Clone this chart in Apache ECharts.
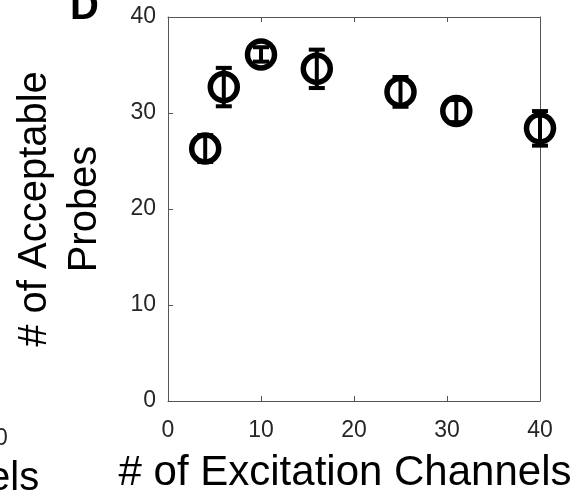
<!DOCTYPE html>
<html>
<head>
<meta charset="utf-8">
<script src="https://cdn.jsdelivr.net/npm/echarts@6/dist/echarts.min.js"></script>
<style>
html,body{margin:0;padding:0;background:#fff;}
#chart{width:576px;height:499px;}
</style>
</head>
<body>
<div id="chart"></div>
<script>
// Data
const channels = [4, 6, 10, 16, 25, 31, 40];
const probes = [26.3, 32.7, 36.1, 34.6, 32.2, 30.2, 28.4];
const errors = [1.4, 2.0, 0.75, 2.0, 1.55, 1.15, 1.8];
const xTicks = [0, 10, 20, 30, 40];
const yTicks = [0, 10, 20, 30, 40];

const FONT = "'Liberation Sans', Arial, Helvetica, sans-serif";
const AX = '#555';
const TXT = '#262626';

const chart = echarts.init(document.getElementById('chart'), null, {renderer: 'canvas'});

const scatterData = channels.map((c, i) => [c, probes[i]]);
const errData = channels.map((c, i) => [c, probes[i] - errors[i], probes[i] + errors[i]]);

const baseAxis = {
  type: 'value',
  splitLine: {show: false},
  axisLine: {show: true, onZero: false, lineStyle: {color: AX, width: 1}},
  axisTick: {show: true, inside: true, length: 5, lineStyle: {color: AX, width: 1}}
};

chart.setOption({
  animation: false,
  backgroundColor: '#fff',
  grid: {left: 168, right: 36, top: 17, bottom: 91, containLabel: false},
  xAxis: [
    Object.assign({}, baseAxis, {
      min: xTicks[0], max: xTicks[xTicks.length - 1], interval: 10, position: 'bottom',
      axisLabel: {color: TXT, fontSize: 23, fontFamily: FONT, margin: 18},
      name: '# of Excitation Channels', nameLocation: 'middle', nameGap: 51,
      nameTextStyle: {color: '#000', fontSize: 42, fontFamily: FONT, padding: [0, 18, 0, 0]}
    }),
    Object.assign({}, baseAxis, {
      min: xTicks[0], max: xTicks[xTicks.length - 1], interval: 10, position: 'top',
      axisLabel: {show: false}
    })
  ],
  yAxis: [
    Object.assign({}, baseAxis, {
      min: yTicks[0], max: yTicks[yTicks.length - 1], interval: 10, position: 'left',
      axisLabel: {color: TXT, fontSize: 23, fontFamily: FONT, margin: 12},
      name: '# of Acceptable\nProbes', nameLocation: 'middle', nameRotate: 90, nameGap: 58,
      nameTextStyle: {color: '#000', fontSize: 40, fontFamily: FONT, lineHeight: 50}
    }),
    Object.assign({}, baseAxis, {
      min: yTicks[0], max: yTicks[yTicks.length - 1], interval: 10, position: 'right',
      axisTick: {show: false},
      axisLabel: {show: false}
    })
  ],
  graphic: [
    {type: 'text', left: 70, top: -12, style: {text: 'D', fontSize: 40, fontWeight: 'bold', fontFamily: FONT, fill: '#000'}},
    {type: 'text', left: -5, top: 427, style: {text: '0', fontSize: 23, fontFamily: FONT, fill: TXT}},
    {type: 'text', left: -12, top: 459, style: {text: 'els', fontSize: 40, fontFamily: FONT, fill: '#000'}}
  ],
  series: [
    {
      type: 'custom',
      xAxisIndex: 0, yAxisIndex: 0,
      data: errData,
      z: 3,
      renderItem: function (params, api) {
        const x = api.value(0);
        const lo = api.coord([x, api.value(1)]);
        const hi = api.coord([x, api.value(2)]);
        const hw = 8;
        const st = {stroke: '#000', lineWidth: 4, fill: 'none'};
        return {
          type: 'group',
          children: [
            {type: 'line', shape: {x1: lo[0], y1: lo[1], x2: hi[0], y2: hi[1]}, style: st},
            {type: 'line', shape: {x1: lo[0] - hw, y1: lo[1], x2: lo[0] + hw, y2: lo[1]}, style: st},
            {type: 'line', shape: {x1: hi[0] - hw, y1: hi[1], x2: hi[0] + hw, y2: hi[1]}, style: st}
          ]
        };
      }
    },
    {
      type: 'scatter',
      xAxisIndex: 0, yAxisIndex: 0,
      data: scatterData,
      symbol: 'circle',
      symbolSize: 27,
      z: 2,
      itemStyle: {color: 'rgba(255,255,255,0)', borderColor: '#000', borderWidth: 5.5, opacity: 1}
    }
  ]
});
</script>
</body>
</html>
